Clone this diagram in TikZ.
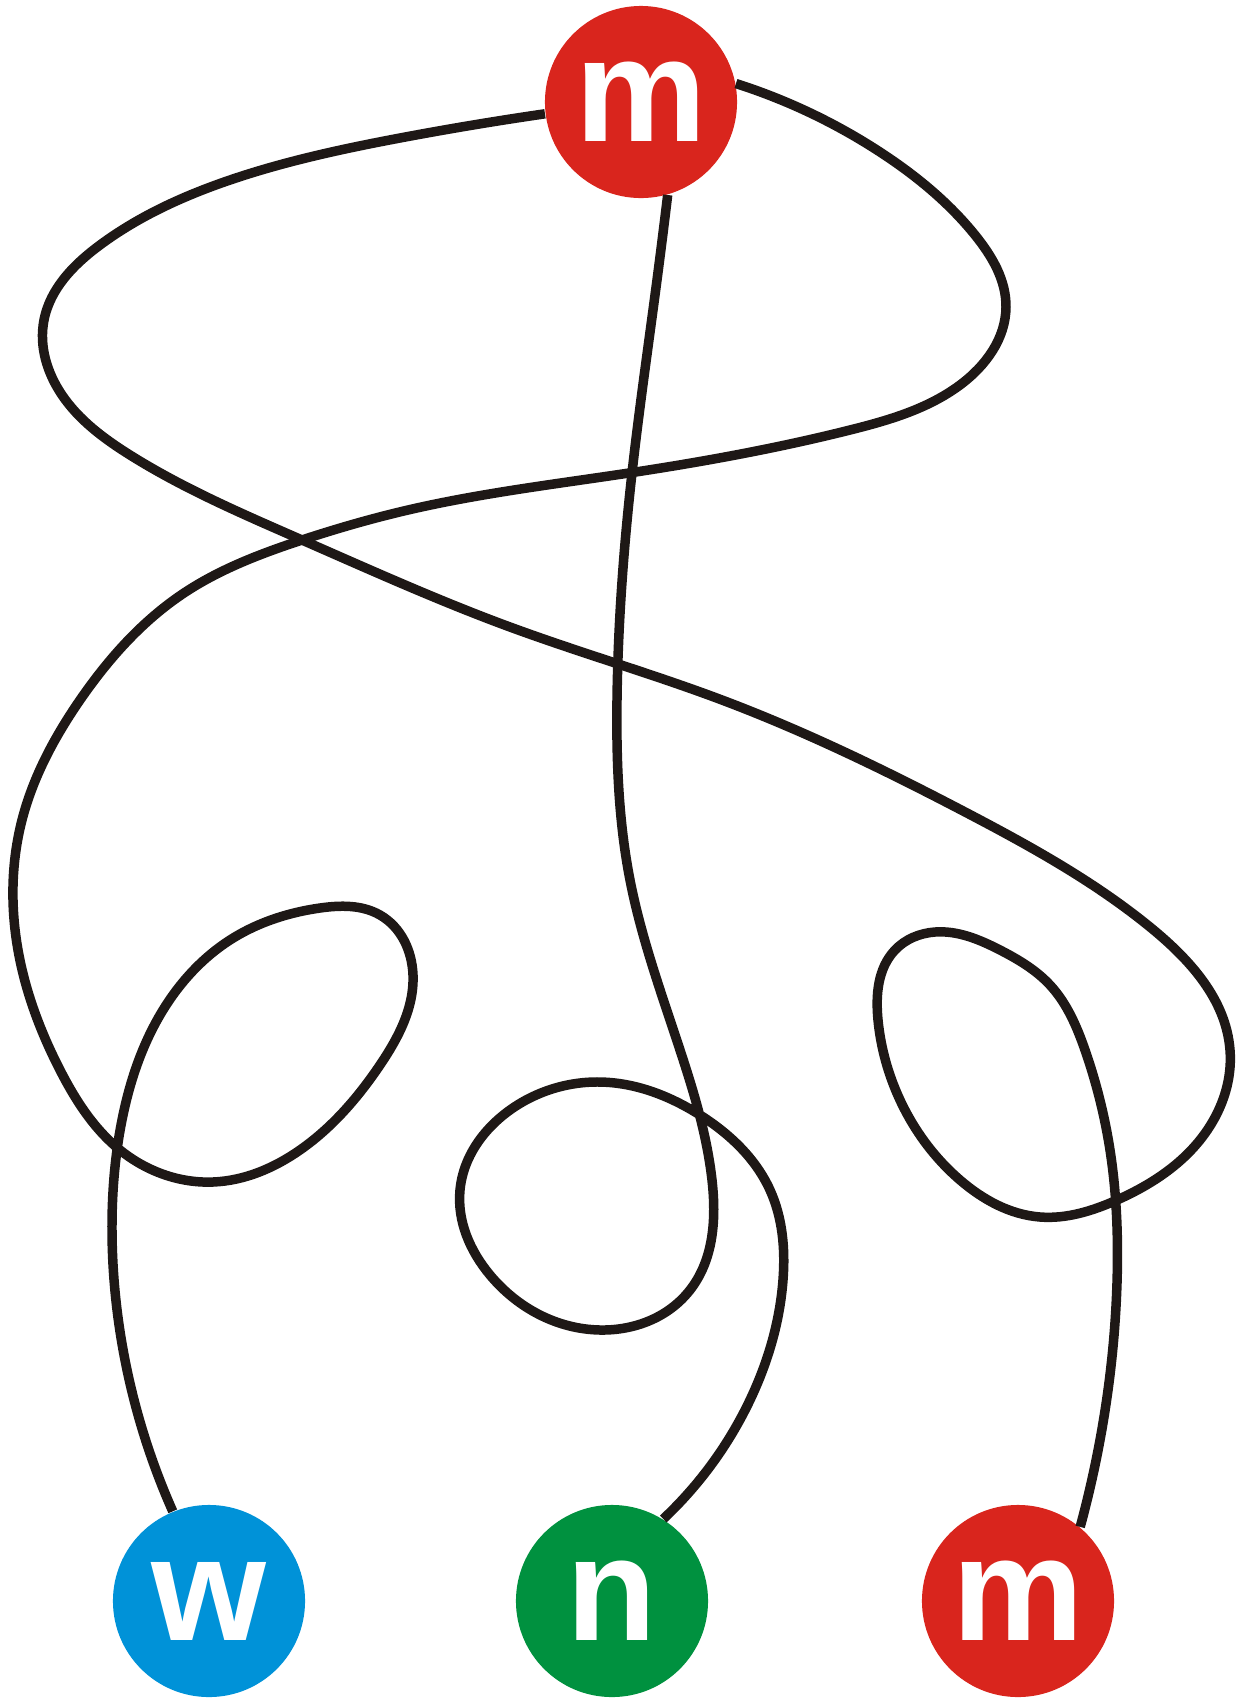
\documentclass[tikz,border=0pt]{standalone}
\usepackage{fontspec}
\setmainfont{Liberation Sans}
\usetikzlibrary{hobby}
\definecolor{ballred}{RGB}{217,37,29}
\definecolor{ballblue}{RGB}{0,146,216}
\definecolor{ballgreen}{RGB}{0,145,63}
\definecolor{wirecol}{RGB}{30,24,22}
\tikzset{
	ball/.style={circle, minimum size=1.92cm, inner sep=0pt, text=white,
		font=\bfseries\fontsize{42}{42}\selectfont},
	wire/.style={draw=wirecol, line width=2.7pt, use Hobby shortcut},
}

\begin{document}
\begin{tikzpicture}[x=0.01cm, y=-0.01cm]
	\useasboundingbox (0, 0) rectangle (1239, 1699);
	% Balls:
	\node[ball, fill=ballred] (mtop) at (641, 102){m};
	\node[ball, fill=ballblue] (w) at (209, 1601){w};
	\node[ball, fill=ballgreen] (n) at (612, 1601){n};
	\node[ball, fill=ballred] (mbot) at (1018, 1601){m};
	% Wires:
	\draw[wire] (mtop.187) .. (400, 138) .. (230, 180) .. (100, 245) .. (44, 320) .. (62, 395) .. (130, 455) .. (302, 540) .. (510, 627) .. (722, 700) .. (967, 813) .. (1150, 927) .. (1230, 1050) .. (1200, 1140) .. (1117, 1200) .. (1040, 1217) .. (960, 1180) .. (900, 1100) .. (878, 1020) .. (895, 950) .. (935, 932) .. (1000, 950) .. (1050, 985) .. (1085, 1050) .. (1110, 1150) .. (1117, 1283) .. (1100, 1440) .. (mbot.50);
	\draw[wire] (mtop.11) .. (880, 152) .. (975, 235) .. (1006, 307) .. (960, 385) .. (850, 430) .. (629, 473) .. (408, 510) .. (302, 540) .. (184, 593) .. (80, 700) .. (22, 820) .. (18, 950) .. (60, 1070) .. (120, 1150) .. (213, 1182) .. (300, 1150) .. (380, 1065) .. (413, 975) .. (380, 915) .. (320, 908) .. (230, 940) .. (160, 1015) .. (122, 1120) .. (112, 1230) .. (125, 1360) .. (w.112);
	\draw[wire] (mtop.286) .. (657, 280) .. (632, 473) .. (617, 700) .. (630, 880) .. (680, 1050) .. (712, 1180) .. (690, 1290) .. (600, 1330) .. (490, 1275) .. (460, 1190) .. (510, 1110) .. (600, 1082) .. (700, 1115) .. (770, 1190) .. (783, 1280) .. (750, 1400) .. (n.58);
\end{tikzpicture}
\end{document}
